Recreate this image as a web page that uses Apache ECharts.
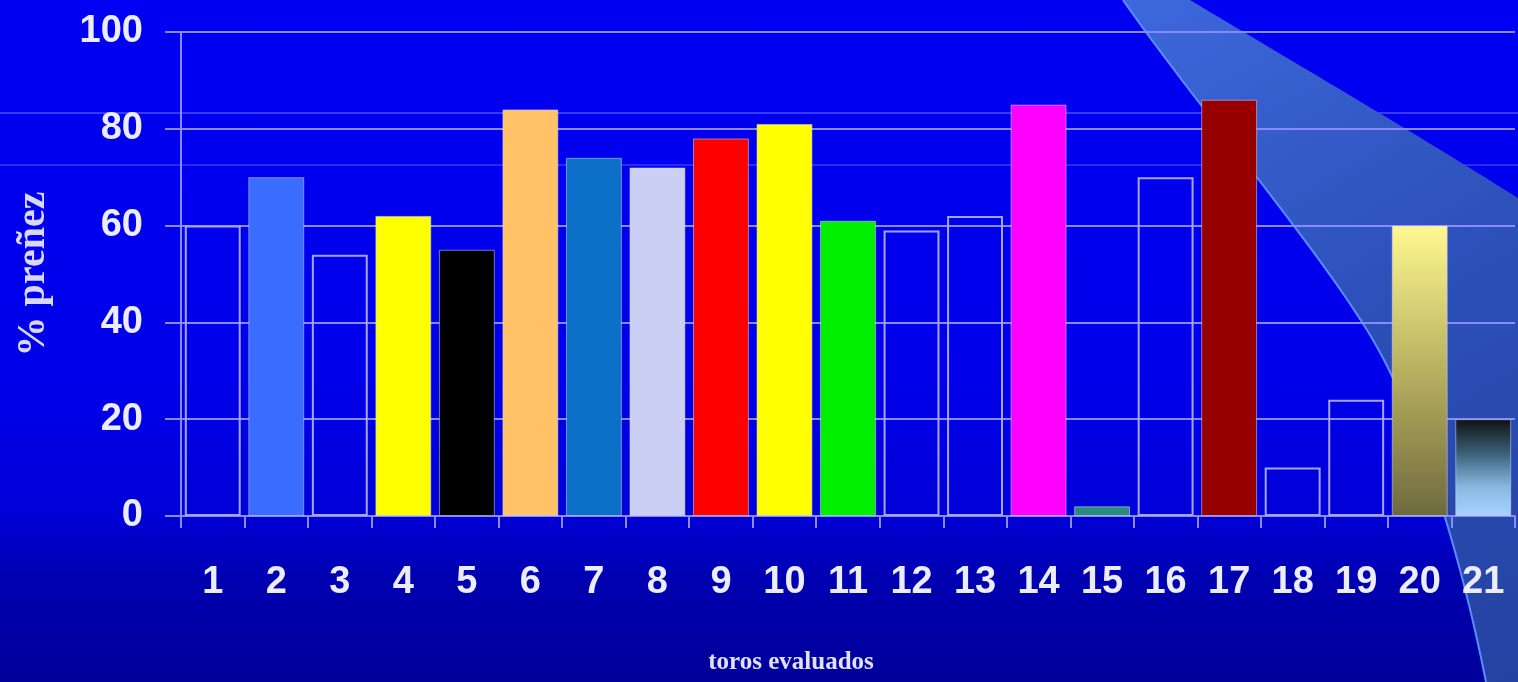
<!DOCTYPE html>
<html>
<head>
<meta charset="utf-8">
<script src="https://cdn.jsdelivr.net/npm/echarts@6/dist/echarts.min.js"></script>
<style>
  html, body { margin: 0; padding: 0; width: 1518px; height: 682px; overflow: hidden; }
  #chart { width: 1518px; height: 682px;
    background: linear-gradient(to bottom, #0000f2 0%, #0000ea 55%, #0000d8 75%, #0000b0 85%, #00009a 100%); }
</style>
</head>
<body>
<div id="chart"></div>
<script>
// ---- data ----
const categories = ['1','2','3','4','5','6','7','8','9','10','11','12','13','14','15','16','17','18','19','20','21'];
const pregnancyPct = [60, 70, 54, 62, 55, 84, 74, 72, 78, 81, 61, 59, 62, 85, 2, 70, 86, 10, 24, 60, 20];
const yTicks = [0, 20, 40, 60, 80, 100];
const yAxisTitle = '% preñez';
const xAxisTitle = 'toros evaluados';

// ---- per-bar fills (null = outline only) ----
const barFills = [
  null, '#3a6cff', null, '#ffff00', '#000000', '#ffc266', '#0c6fc8', '#cccff4',
  '#ff0000', '#ffff00', '#00f000', null, null, '#ff00ff', '#2a8c7c', null,
  '#980000', null, null,
  { type: 'linear', x: 0, y: 0, x2: 0, y2: 1, colorStops: [
      { offset: 0, color: '#fff890' }, { offset: 0.5, color: '#b8b060' }, { offset: 1, color: '#6e6a3e' } ] },
  { type: 'linear', x: 0, y: 0, x2: 0, y2: 1, colorStops: [
      { offset: 0, color: '#111111' }, { offset: 0.35, color: '#3a6078' }, { offset: 0.7, color: '#88b8e0' }, { offset: 1, color: '#a8d4ff' } ] }
];

// decorative swoosh outline (cubic bezier segments), sampled to points
function cubic(p0, p1, p2, p3, n) {
  const out = [];
  for (let i = 0; i <= n; i++) {
    const t = i / n, u = 1 - t;
    out.push([
      u*u*u*p0[0] + 3*u*u*t*p1[0] + 3*u*t*t*p2[0] + t*t*t*p3[0],
      u*u*u*p0[1] + 3*u*u*t*p1[1] + 3*u*t*t*p2[1] + t*t*t*p3[1]
    ]);
  }
  return out;
}
const leftEdge = cubic([1123,0],[1200,110],[1320,250],[1373,340],30)
  .concat(cubic([1373,340],[1420,420],[1462,560],[1486,682],30).slice(1));
const rightEdge = cubic([1190,0],[1290,60],[1410,130],[1518,198],30);
const swooshPts = rightEdge.concat([[1518,682]]).concat(leftEdge.slice().reverse());

const chart = echarts.init(document.getElementById('chart'), null, { renderer: 'canvas' });

const seriesData = pregnancyPct.map((v, i) => {
  const f = barFills[i];
  if (f === null) {
    return { value: v, itemStyle: { color: 'rgba(0,0,0,0)', borderColor: '#a4a4ff', borderWidth: 2 } };
  }
  return { value: v, itemStyle: { color: f, borderColor: 'rgba(210,210,255,0.55)', borderWidth: 1 } };
});

const textColor = '#ececff';
const lineColor = '#8a8aff';

chart.setOption({
  backgroundColor: 'transparent',
  animation: false,
  grid: { left: 181, right: 3, top: 32, bottom: 166, containLabel: false },
  xAxis: {
    type: 'category',
    data: categories,
    axisLine: { show: true, lineStyle: { color: lineColor, width: 2 } },
    axisTick: { show: true, alignWithLabel: false, length: 12, lineStyle: { color: lineColor, width: 2 } },
    axisLabel: { color: textColor, fontFamily: 'Liberation Sans, Arial, sans-serif', fontWeight: 'bold', fontSize: 38, margin: 48 },
    splitLine: { show: false }
  },
  yAxis: {
    type: 'value',
    min: yTicks[0],
    max: yTicks[yTicks.length - 1],
    interval: yTicks[1] - yTicks[0],
    axisLine: { show: true, lineStyle: { color: lineColor, width: 2 } },
    axisTick: { show: true, length: 16, lineStyle: { color: lineColor, width: 2 } },
    axisLabel: { color: textColor, fontFamily: 'Liberation Sans, Arial, sans-serif', fontWeight: 'bold', fontSize: 38, margin: 38 },
    splitLine: { show: true, lineStyle: { color: lineColor, width: 2 } }
  },
  series: [{
    type: 'bar',
    data: seriesData,
    barCategoryGap: '12%',
    z: 3
  }],
  graphic: [
    { type: 'line', z: -20, silent: true, shape: { x1: 0, y1: 113, x2: 1518, y2: 113 }, style: { stroke: '#3a3aff', lineWidth: 2 } },
    { type: 'line', z: -20, silent: true, shape: { x1: 0, y1: 165, x2: 1518, y2: 165 }, style: { stroke: '#2a2aff', lineWidth: 2 } },
    { type: 'polygon', z: -10, silent: true,
      shape: { points: swooshPts },
      style: { fill: { type: 'linear', x: 0, y: 0, x2: 1, y2: 1, colorStops: [
        { offset: 0, color: '#3d68dc' }, { offset: 0.5, color: '#2c50b8' }, { offset: 1, color: '#2442a2' } ] } } },
    { type: 'polyline', z: -9, silent: true,
      shape: { points: leftEdge },
      style: { fill: null, stroke: '#5a8cff', lineWidth: 2 } },
    { type: 'text', z: 10, x: 34, y: 274, rotation: Math.PI / 2,
      style: { text: yAxisTitle, fill: '#d8d8ff', font: 'bold 40px "Liberation Serif", "Times New Roman", serif', textAlign: 'center', textVerticalAlign: 'middle' } },
    { type: 'text', z: 10, x: 791, y: 663,
      style: { text: xAxisTitle, fill: '#e0e0ff', font: 'bold 25px "Liberation Serif", "Times New Roman", serif', textAlign: 'center', textVerticalAlign: 'middle' } }
  ]
});
</script>
</body>
</html>
